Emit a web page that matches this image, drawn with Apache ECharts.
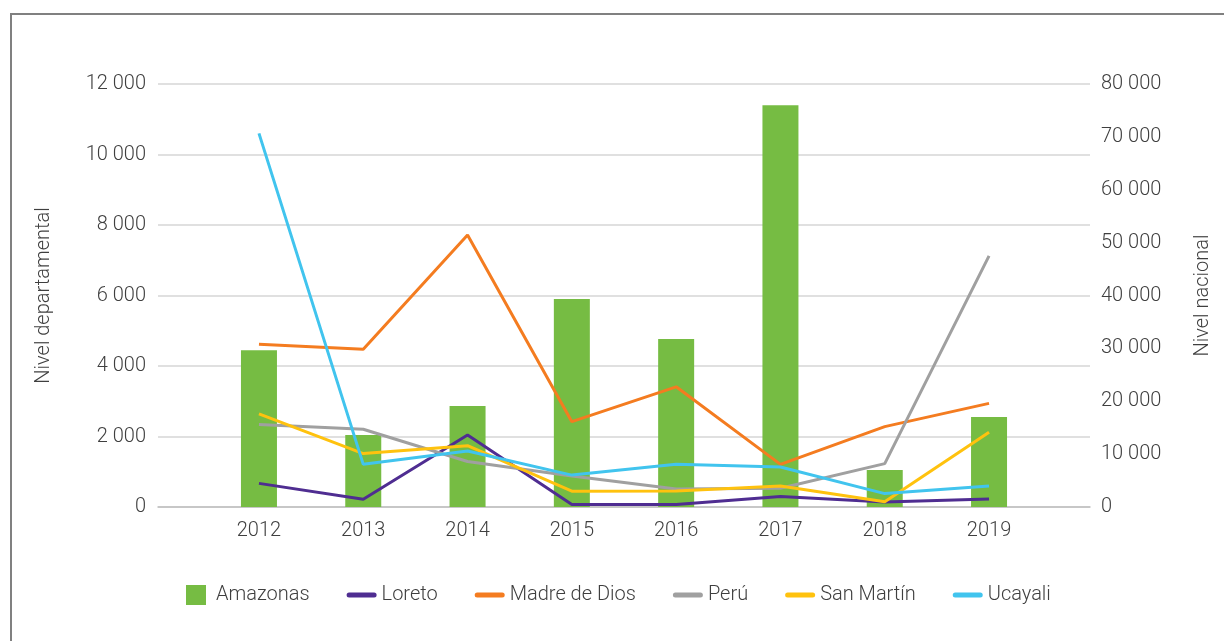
<!DOCTYPE html>
<html>
<head>
<meta charset="utf-8">
<script src="https://cdn.jsdelivr.net/npm/echarts@6/dist/echarts.min.js"></script>
<style>
  html, body { margin: 0; padding: 0; background: #fff; }
  #wrap { position: relative; width: 1224px; height: 641px; overflow: hidden; }
  #frame { position: absolute; left: 10px; top: 13px; width: 1400px; height: 800px;
           border-left: 2px solid #808080; border-top: 2px solid #808080; }
  #chart { position: absolute; left: 0; top: 0; width: 1224px; height: 641px; }
</style>
</head>
<body>
<div id="wrap">
  <div id="frame"></div>
  <div id="chart"></div>
</div>
<script>
// Años y valores (Amazonas en barras, el resto en líneas)
const years = [2012, 2013, 2014, 2015, 2016, 2017, 2018, 2019];
const amazonas = [4450, 2040, 2865, 5900, 4765, 11400, 1050, 2555];
const loreto = [670, 220, 2040, 70, 70, 295, 145, 225];
const madreDeDios = [4615, 4475, 7715, 2420, 3410, 1210, 2280, 2940];
const sanMartin = [2640, 1515, 1740, 450, 455, 595, 150, 2120];
const ucayali = [10600, 1210, 1590, 905, 1210, 1135, 380, 595];
// Perú va en el eje derecho (nivel nacional)
const peru = [15600, 14700, 8600, 5850, 3400, 3550, 8200, 47500];

const leftTicks = { min: 0, max: 12000, interval: 2000 };
const rightTicks = { min: 0, max: 80000, interval: 10000 };

const COLORS = {
  amazonas: '#76bc43',
  loreto: '#4f2d91',
  madre: '#f47c20',
  peru: '#a0a0a0',
  sanMartin: '#ffc20e',
  ucayali: '#41c4ee',
};

const FONT = 'Roboto, "Noto Sans", sans-serif';
const TEXT = '#3f3f3f';
const FS = 20;

function fmt(v) {
  return String(Math.round(v)).replace(/\B(?=(\d{3})+(?!\d))/g, ' ');
}

function pairs(vals) {
  return vals.map((v, i) => [years[i], v]);
}

const squareIcon = 'path://M0,0h20v20h-20z';
const lineIcon = 'path://M2.5,0h25a2.5,2.5 0 0 1 0,5h-25a2.5,2.5 0 0 1 0,-5z';

function lineSeries(name, vals, color, axis) {
  return {
    name,
    type: 'line',
    yAxisIndex: axis || 0,
    data: pairs(vals),
    symbol: 'none',
    smooth: false,
    color,
    lineStyle: { color, width: 3 },
    z: 3,
  };
}

const chart = echarts.init(document.getElementById('chart'), null, { renderer: 'canvas' });

chart.setOption({
  animation: false,
  backgroundColor: 'transparent',
  textStyle: { fontFamily: FONT },
  grid: { left: 158, right: 134, top: 84, bottom: 134, containLabel: false },
  legend: {
    left: 181,
    top: 580,
    itemWidth: 30,
    itemHeight: 20,
    itemGap: 37,
    symbolKeepAspect: true,
    textStyle: { fontFamily: FONT, fontSize: FS, fontWeight: 300, color: TEXT },
    data: [
      { name: 'Amazonas', icon: squareIcon },
      { name: 'Loreto', icon: lineIcon },
      { name: 'Madre de Dios', icon: lineIcon },
      { name: 'Perú', icon: lineIcon },
      { name: 'San Martín', icon: lineIcon },
      { name: 'Ucayali', icon: lineIcon },
    ],
  },
  xAxis: {
    type: 'value',
    min: 2011.032,
    max: 2019.968,
    axisLine: { show: true, lineStyle: { color: '#bfbfbf', width: 1.5 } },
    axisTick: { show: false },
    splitLine: { show: false },
    axisLabel: {
      customValues: years,
      margin: 14,
      fontFamily: FONT,
      fontSize: FS,
      fontWeight: 300,
      color: TEXT,
      formatter: v => String(v),
    },
  },
  yAxis: [
    {
      type: 'value',
      position: 'left',
      min: leftTicks.min,
      max: leftTicks.max,
      interval: leftTicks.interval,
      name: 'Nivel departamental',
      nameLocation: 'middle',
      nameRotate: 90,
      nameGap: 104,
      nameTextStyle: { fontFamily: FONT, fontSize: FS, fontWeight: 300, color: TEXT },
      axisLine: { show: false },
      axisTick: { show: false },
      splitLine: { show: true, lineStyle: { color: '#d6d6d6', width: 1.5 } },
      axisLabel: { margin: 12, fontFamily: FONT, fontSize: FS, fontWeight: 300, color: TEXT, formatter: fmt },
    },
    {
      type: 'value',
      position: 'right',
      min: rightTicks.min,
      max: rightTicks.max,
      interval: rightTicks.interval,
      name: 'Nivel nacional',
      nameLocation: 'middle',
      nameRotate: 90,
      nameGap: 103,
      nameTextStyle: { fontFamily: FONT, fontSize: FS, fontWeight: 300, color: TEXT },
      axisLine: { show: false },
      axisTick: { show: false },
      splitLine: { show: false },
      axisLabel: { margin: 11, fontFamily: FONT, fontSize: FS, fontWeight: 300, color: TEXT, formatter: fmt },
    },
  ],
  series: [
    {
      name: 'Amazonas',
      type: 'bar',
      yAxisIndex: 0,
      data: pairs(amazonas),
      barWidth: 36,
      color: COLORS.amazonas,
      itemStyle: { color: COLORS.amazonas },
      z: 2,
    },
    lineSeries('Loreto', loreto, COLORS.loreto),
    lineSeries('Madre de Dios', madreDeDios, COLORS.madre),
    lineSeries('Perú', peru, COLORS.peru, 1),
    lineSeries('San Martín', sanMartin, COLORS.sanMartin),
    lineSeries('Ucayali', ucayali, COLORS.ucayali),
  ],
});
</script>
</body>
</html>
